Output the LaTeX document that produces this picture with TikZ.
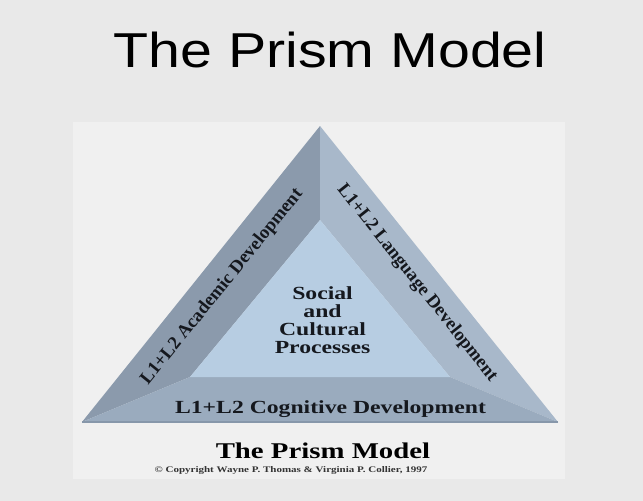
\documentclass[tikz,border=0pt]{standalone}
\usepackage{fontspec}
\setmainfont{Liberation Serif}
\newfontfamily\titlefont{Liberation Sans}
\begin{document}
\begin{tikzpicture}[x=1pt,y=-1pt,
  facetext/.style={font=\fontsize{18.6}{19}\selectfont\bfseries, text=inkdark, inner sep=0pt},
  flattext/.style={font=\fontsize{18.5}{18.2}\selectfont\bfseries, text=inkdark, inner sep=0pt, transform shape, align=center}]
\definecolor{pagebg}{HTML}{E9E9E9}
\definecolor{panelbg}{HTML}{F0F0F0}
\definecolor{faceL}{HTML}{8B9AAC}
\definecolor{faceR}{HTML}{A8B8CA}
\definecolor{faceB}{HTML}{9AABBE}
\definecolor{faceC}{HTML}{B7CDE2}
\definecolor{edgeB}{HTML}{8797AA}
\definecolor{inkdark}{HTML}{15181E}
\useasboundingbox (0,0) rectangle (643,501);
\fill[pagebg] (0,0) rectangle (643,501);
\fill[panelbg] (73,122) rectangle (565,479);

% slide title
\node[font=\titlefont\fontsize{49}{50}\selectfont, xscale=1.17, anchor=base, inner sep=0pt] (title) at (330,67) {The Prism Model};

% outer and inner triangle corners
\coordinate (oA) at (320,126);
\coordinate (oL) at (82,422);
\coordinate (oR) at (558,422);
\coordinate (iA) at (320,220);
\coordinate (iL) at (190,377);
\coordinate (iR) at (450,377);

% the three faces of the prism and its core
\fill[faceL] (oA) -- (oL) -- (iL) -- (iA) -- cycle;
\fill[faceR] (oA) -- (iA) -- (iR) -- (oR) -- cycle;
\fill[faceB] (oL) -- (oR) -- (iR) -- (iL) -- cycle;
\fill[faceC] (iA) -- (iL) -- (iR) -- cycle;
\draw[edgeB, line width=1.2pt] (oL) -- (oR);

% labels along the two slanted faces
\node[facetext, rotate=51] (acad) at (222,287) {L1+L2 Academic Development};
\node[facetext, rotate=-51.5] (lang) at (417,283) {L1+L2 Language Development};

% horizontal labels, set in a widened frame
\begin{scope}[shift={(320,0)}, xscale=1.28]
  \node[flattext, anchor=base] (cogn) at (8.2,413) {L1+L2 Cognitive Development};
  \node[flattext] (core) at (2,320) {Social\\and\\Cultural\\Processes};
  \node[font=\fontsize{22.5}{24}\selectfont\bfseries, anchor=base, inner sep=0pt, transform shape] (caption) at (2.3,458) {The Prism Model};
  \node[font=\fontsize{8.6}{10}\selectfont\bfseries, text=black!80, anchor=base, inner sep=0pt, transform shape] (credit) at (-22.7,472) {\textcopyright\ Copyright Wayne P. Thomas \& Virginia P. Collier, 1997};
\end{scope}
\end{tikzpicture}
\end{document}
